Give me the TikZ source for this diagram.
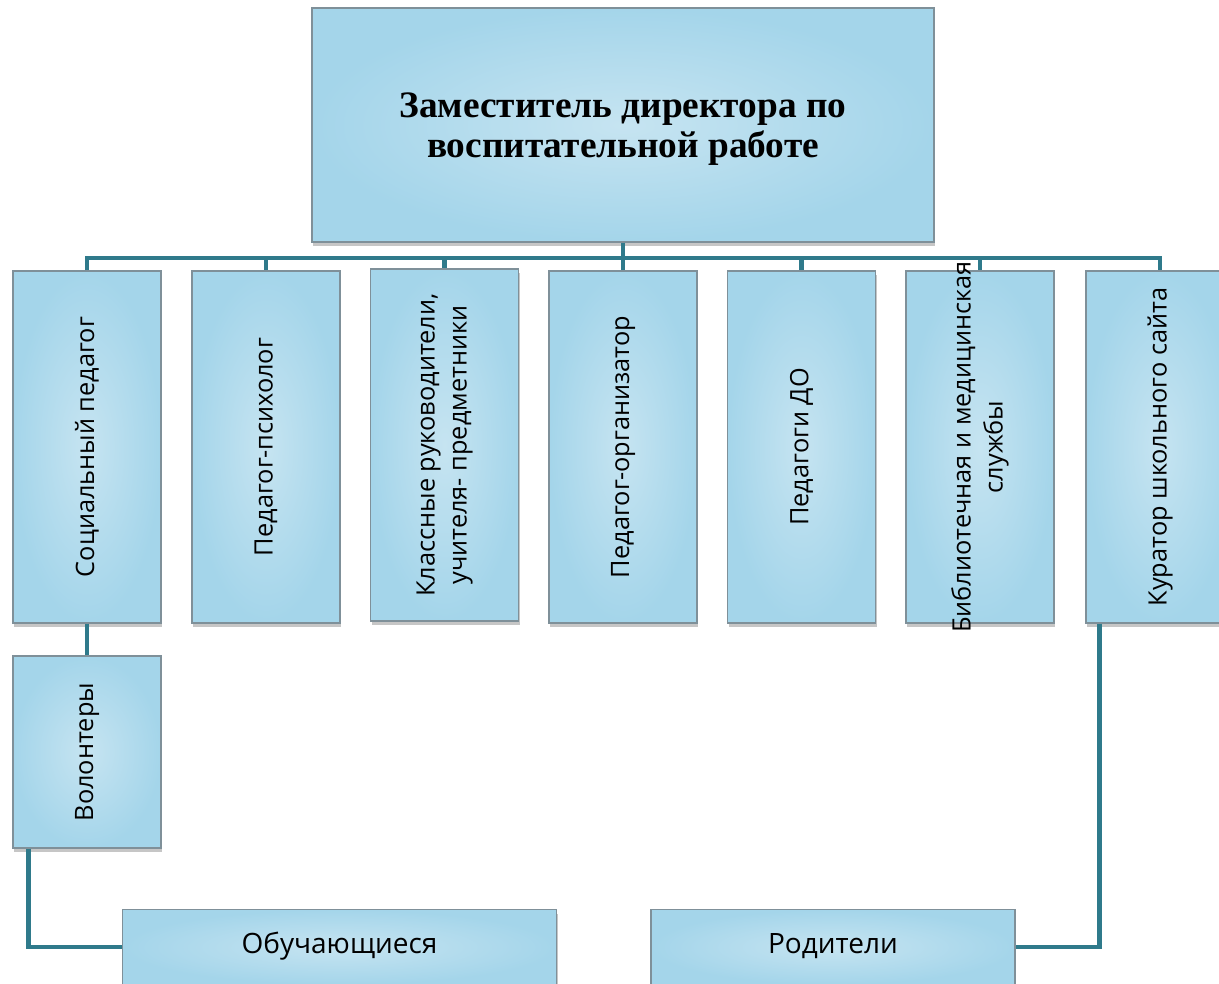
\documentclass[tikz,border=0pt]{standalone}
\usepackage{fontspec}
\setmainfont{Open Sans}
\newfontfamily\titlefont{Liberation Serif}
\usetikzlibrary{shadows}
\usetikzlibrary{positioning}

\definecolor{boxedge}{HTML}{A4D5EA}
\definecolor{boxmid}{HTML}{C6E4F1}
\definecolor{boxline}{HTML}{7F9099}
\definecolor{linkteal}{HTML}{2F7A8B}

\tikzset{
  unitbox/.style={draw=boxline, line width=0.9pt, inner color=boxmid, outer color=boxedge,
    drop shadow={shadow xshift=0.8pt, shadow yshift=-3.2pt, opacity=0.45}},
  colbox/.style={unitbox, minimum width=111pt, minimum height=264pt},
  vlabel/.style={rotate=90, align=center, font=\fontsize{19}{24}\selectfont},
  hlabel/.style={font=\fontsize{21}{25}\selectfont},
  link/.style={draw=linkteal, line width=3.6pt}
}

\begin{document}
\begin{tikzpicture}[x=0.75pt,y=0.75pt,yscale=-1,xscale=1]
\useasboundingbox (0,0) rectangle (1219,983);
\clip (0,0) rectangle (1219,983);

%Shape: Top box
\node[unitbox, minimum width=466.5pt, minimum height=175.5pt] (zam) at (623,125) {};
% Text Node
\node[align=center, font=\titlefont\bfseries\fontsize{28}{29.5}\selectfont] (zamtxt) at (623,129) {Заместитель директора по\\воспитательной работе};

%Shape: Columns
\node[colbox] (socped) at (87,447) {};
\node[colbox] (psych) at (266,447) {};
\node[colbox] (klass) at (444.5,445) {};
\node[colbox] (organ) at (623,447) {};
\node[colbox] (pedDO) at (801.5,447) {};
\node[colbox] (biblio) at (980,447) {};
\node[colbox] (kurator) at (1160,447) {};

% Text Node
\node[vlabel] (socpedtxt) at (socped) {Социальный педагог};
\node[vlabel] (psychtxt) at (psych) {Педагог-психолог};
\node[vlabel] (klasstxt) at (klass) {Классные руководители,\\учителя- предметники};
\node[vlabel] (organtxt) at (organ) {Педагог-организатор};
\node[vlabel] (pedDOtxt) at (pedDO) {Педагоги ДО};
\node[vlabel] (bibliotxt) at (biblio) {Библиотечная и медицинская\\службы};
\node[vlabel] (kuratortxt) at (kurator) {Куратор школьного сайта};

%Shape: Volunteers
\node[unitbox, minimum width=111pt, minimum height=144pt] (volont) at (87,752) {};
\node[vlabel] (volonttxt) at (volont) {Волонтеры};

%Shape: Bottom boxes
\node[unitbox, minimum width=326pt, minimum height=56pt] (obuch) at (339.5,947) {};
\node[hlabel] (obuchtxt) at ([yshift=-1pt]obuch.center) {Обучающиеся};
\node[unitbox, minimum width=273pt, minimum height=56pt] (rodit) at (833,947) {};
\node[hlabel] (rodittxt) at ([yshift=-1pt]rodit.center) {Родители};

%Straight Lines
\coordinate (bus) at (0,258);
\draw[link] (socped.north) -- (bus -| socped.north) -- (bus -| kurator.north) -- (kurator.north);
\draw[link] (zam.south) -- (bus -| zam.south);
\foreach \col in {psych,klass,organ,pedDO,biblio}
  \draw[link] (bus -| \col.north) -- (\col.north);
\draw[link] (socped.south) -- (volont.north);
\draw[link] ([xshift=12pt]volont.south west) |- (obuch.west);
\draw[link] ([xshift=10.5pt]kurator.south west) |- (rodit.east);

\end{tikzpicture}
\end{document}
